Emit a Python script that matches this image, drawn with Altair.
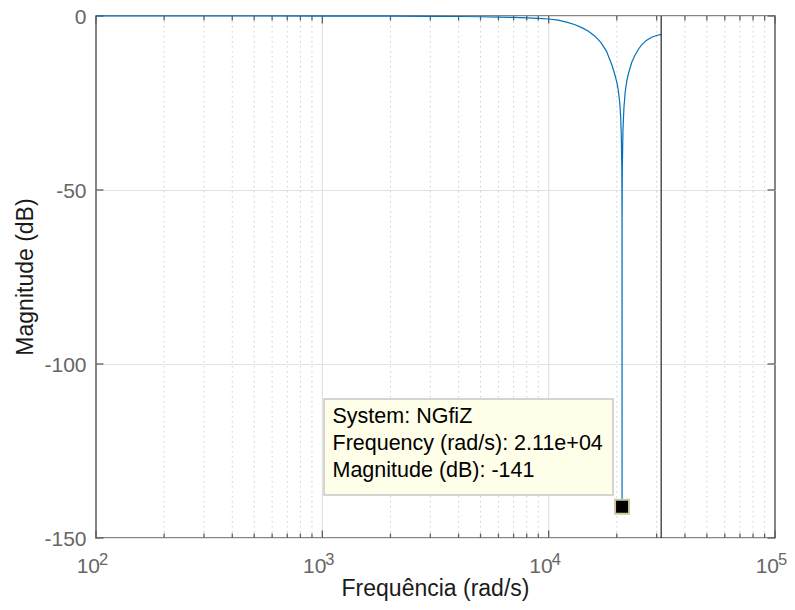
import altair as alt
import pandas as pd

# ---- data ----
freq = [100, 200, 500, 1000, 2000, 3000, 4000, 5000, 6000, 7000, 8000, 9000,
        10000, 11000, 12000, 13000, 14000, 15000, 16000, 17000, 18000, 19000,
        19500, 20000, 20300, 20600, 20800, 20950, 21050, 21090, 21100, 21110,
        21150, 21300, 21500, 21770, 22130, 22500, 23290, 24000, 25000, 25760,
        27000, 28500, 30000, 31416]
mag_db = [0.0, 0.0, -0.002, -0.009, -0.035, -0.08, -0.14, -0.21, -0.3, -0.41,
          -0.54, -0.69, -0.86, -1.2, -1.75, -2.45, -3.35, -4.4, -5.8, -7.6,
          -10.1, -14.0, -16.3, -19.0, -21.3, -24.8, -28.8, -34.8, -44.5, -58.0,
          -141.0, -58.0, -44.0, -32.5, -26.5, -22.0, -18.7, -16.6, -13.3,
          -11.4, -9.4, -8.3, -7.0, -6.1, -5.6, -5.3]

major_f = [100, 1000, 10000, 100000]
major_exp = ["2", "3", "4", "5"]
major_grid_f = [1000, 10000]
minor_f = [200, 300, 400, 500, 600, 700, 800, 900,
           2000, 3000, 4000, 5000, 6000, 7000, 8000, 9000,
           20000, 30000, 40000, 50000, 60000, 70000, 80000, 90000]
y_ticks = [0, -50, -100, -150]
nyquist_f = [31416]
tip_f = [21100]
tip_db = [-141]
tip_lines = ["System: NGfiZ", "Frequency (rad/s): 2.11e+04", "Magnitude (dB): -141"]
x_title = "Frequência  (rad/s)"
y_title = "Magnitude (dB)"

# ---- layout / style ----
W, H = 679, 522
FONT = "Liberation Sans"
FRAME = "#5f5f5f"
LABEL = "#666666"

xs = alt.Scale(type="log", domain=[100, 100000], nice=False)
ys = alt.Scale(domain=[-150, 0], nice=False)
yaxis = alt.Axis(values=y_ticks, title=None, ticks=False, tickSize=0, domain=False,
                 grid=True, gridColor="#e2e2e2", gridWidth=1,
                 labelFont=FONT, labelFontSize=21, labelColor=LABEL, labelPadding=10,
                 labelOffset=1, labelExpr="'' + datum.value")

curve_df = pd.DataFrame({"f": freq, "db": mag_db})
major_df = pd.DataFrame({"f": major_f, "e": major_exp, "ten": ["10"] * len(major_f)})
mgrid_df = pd.DataFrame({"f": major_grid_f})
minor_df = pd.DataFrame({"f": minor_f})
yt_df = pd.DataFrame({"v": y_ticks})
nyq_df = pd.DataFrame({"f": nyquist_f})
tip_df = pd.DataFrame({"f": tip_f, "db": tip_db})

X = lambda: alt.X("f:Q", scale=xs, axis=None)

ygrid = alt.Chart(yt_df).mark_rule(opacity=0).encode(
    y=alt.Y("v:Q", scale=ys, axis=yaxis))

minor_grid = alt.Chart(minor_df).mark_rule(color="#cfcfcf", strokeWidth=1, strokeDash=[1.5, 3.5]).encode(
    x=X(), y=alt.value(0), y2=alt.value(H))
major_grid = alt.Chart(mgrid_df).mark_rule(color="#e2e2e2", strokeWidth=1.2).encode(
    x=X(), y=alt.value(0), y2=alt.value(H))

minor_bot = alt.Chart(minor_df).mark_rule(color=FRAME, strokeWidth=1.3).encode(
    x=X(), y=alt.value(H), y2=alt.value(H - 4.5))
minor_top = alt.Chart(minor_df).mark_rule(color=FRAME, strokeWidth=1.3).encode(
    x=X(), y=alt.value(0), y2=alt.value(4.5))
major_bot = alt.Chart(major_df).mark_rule(color=FRAME, strokeWidth=1.3).encode(
    x=X(), y=alt.value(H), y2=alt.value(H - 7.5))
major_top = alt.Chart(major_df).mark_rule(color=FRAME, strokeWidth=1.3).encode(
    x=X(), y=alt.value(0), y2=alt.value(7.5))
yt_left = alt.Chart(yt_df).mark_rule(color=FRAME, strokeWidth=1.3).encode(
    y=alt.Y("v:Q", scale=ys, axis=yaxis), x=alt.value(0), x2=alt.value(7.5))
yt_right = alt.Chart(yt_df).mark_rule(color=FRAME, strokeWidth=1.3).encode(
    y=alt.Y("v:Q", scale=ys, axis=yaxis), x=alt.value(W - 7.5), x2=alt.value(W))

curve = alt.Chart(curve_df).mark_line(color="#0072BD", strokeWidth=1.2).encode(
    x=X(), y=alt.Y("db:Q", scale=ys, axis=yaxis), order="f:Q")

nyq = alt.Chart(nyq_df).mark_rule(color="#262626", strokeWidth=1.2).encode(
    x=X(), y=alt.value(0), y2=alt.value(H))

box = alt.Chart(tip_df).mark_rect(fill="#fefee9", stroke="#c8c8c8", strokeWidth=1.5).encode(
    x=alt.value(228), x2=alt.value(517), y=alt.value(383), y2=alt.value(479))

tip_text_layers = []
for i, line in enumerate(tip_lines):
    tip_text_layers.append(
        alt.Chart(pd.DataFrame({"t": [line]})).mark_text(
            align="left", baseline="alphabetic", font=FONT, fontSize=21.5, color="#000000"
        ).encode(text="t:N", x=alt.value(236.5), y=alt.value([407.3, 434.2, 461.3][i]))
    )

marker = alt.Chart(tip_df).mark_square(size=196, filled=True, fill="#000000", stroke="#c9c9a0",
                                       strokeWidth=2, opacity=1).encode(
    x=X(), y=alt.Y("db:Q", scale=ys, axis=yaxis))

ten_lbl = alt.Chart(major_df).mark_text(align="right", baseline="alphabetic", dx=4,
                                        font=FONT, fontSize=21, color=LABEL).encode(
    x=X(), y=alt.value(557), text="ten:N")
exp_lbl = alt.Chart(major_df).mark_text(align="left", baseline="alphabetic", dx=3,
                                        font=FONT, fontSize=16.5, color=LABEL).encode(
    x=X(), y=alt.value(549), text="e:N")

xt = alt.Chart(pd.DataFrame({"t": [x_title]})).mark_text(
    align="center", baseline="alphabetic", font=FONT, fontSize=23, color="#1a1a1a").encode(
    text="t:N", x=alt.value(W / 2), y=alt.value(579.5))
yt = alt.Chart(pd.DataFrame({"t": [y_title]})).mark_text(
    align="center", baseline="alphabetic", angle=270, font=FONT, fontSize=23, color="#1a1a1a").encode(
    text="t:N", x=alt.value(-63), y=alt.value(261))

chart = alt.layer(
    ygrid, minor_grid, major_grid, minor_bot, minor_top, major_bot, major_top,
    yt_left, yt_right, curve, nyq, box, *tip_text_layers, marker, ten_lbl, exp_lbl, xt, yt
).properties(
    width=W, height=H,
    autosize=alt.AutoSizeParams(type="none"),
    padding={"left": 88, "top": 8, "right": 12, "bottom": 64},
    background="#ffffff",
).configure_view(stroke=FRAME, strokeWidth=1.5)

chart.save("out.html", embed_options={"renderer": "svg", "actions": False})
